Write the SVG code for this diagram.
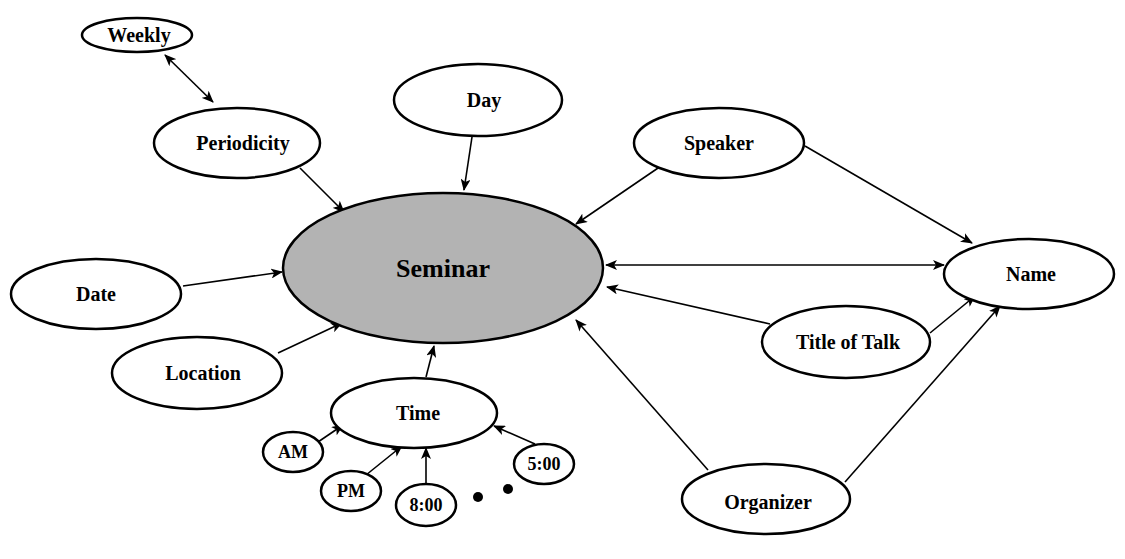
<svg xmlns="http://www.w3.org/2000/svg" width="1125" height="559" viewBox="0 0 1125 559">
<style>
.n ellipse{fill:#fff;stroke:#000;stroke-width:2.5}
.n text{font-family:"Liberation Serif","Times New Roman",serif;font-weight:bold;font-size:20px;text-anchor:middle;dominant-baseline:central;fill:#000}
.c line{stroke:#000;stroke-width:1.6;marker-end:url(#ah)}
.c line.bi{marker-start:url(#ahs)}
</style>
<defs>
<marker id="ah" viewBox="0 0 12 10" refX="11" refY="5" markerWidth="12" markerHeight="10" markerUnits="userSpaceOnUse" orient="auto"><path d="M0,0 L12,5 L0,10 L3,5 z" fill="#000"/></marker>
<marker id="ahs" viewBox="0 0 12 10" refX="11" refY="5" markerWidth="12" markerHeight="10" markerUnits="userSpaceOnUse" orient="auto-start-reverse"><path d="M0,0 L12,5 L0,10 L3,5 z" fill="#000"/></marker>
</defs>
<rect width="1125" height="559" fill="#fff"/>
<g class="c" id="connectors">
<line class="bi" x1="165" y1="55" x2="213" y2="102"/>
<line x1="300" y1="168" x2="344" y2="212"/>
<line x1="472" y1="137" x2="464" y2="190"/>
<line x1="661" y1="166" x2="576" y2="224"/>
<line x1="805" y1="146" x2="972" y2="243"/>
<line class="bi" x1="606" y1="265" x2="944" y2="265"/>
<line x1="770" y1="324" x2="607" y2="287"/>
<line x1="930" y1="333" x2="975" y2="296"/>
<line x1="708" y1="470" x2="576" y2="320"/>
<line x1="845" y1="482" x2="1000" y2="306"/>
<line x1="183" y1="286" x2="282" y2="272"/>
<line x1="278" y1="353" x2="342" y2="323"/>
<line x1="426" y1="377" x2="434" y2="346"/>
<line x1="318" y1="442" x2="343" y2="425"/>
<line x1="366" y1="475" x2="402" y2="446"/>
<line x1="426" y1="484" x2="426" y2="448"/>
<line x1="535" y1="444" x2="494" y2="426"/>
</g>
<g class="n" id="seminar"><ellipse cx="443" cy="268" rx="160" ry="75" style="fill:#b3b3b3"/><text x="443" y="268" style="font-size:26px">Seminar</text></g>
<g class="n" id="weekly"><ellipse cx="137" cy="35" rx="55" ry="17"/><text x="139" y="35">Weekly</text></g>
<g class="n" id="periodicity"><ellipse cx="237" cy="143" rx="83" ry="35"/><text x="243" y="143">Periodicity</text></g>
<g class="n" id="day"><ellipse cx="478" cy="100" rx="84" ry="36"/><text x="484" y="100">Day</text></g>
<g class="n" id="speaker"><ellipse cx="719" cy="143" rx="85" ry="35"/><text x="719" y="143">Speaker</text></g>
<g class="n" id="date"><ellipse cx="96" cy="294" rx="85" ry="35"/><text x="96" y="294">Date</text></g>
<g class="n" id="location"><ellipse cx="197" cy="373" rx="85" ry="36"/><text x="203" y="373">Location</text></g>
<g class="n" id="time"><ellipse cx="414" cy="413" rx="83" ry="35"/><text x="418" y="413">Time</text></g>
<g class="n" id="name"><ellipse cx="1029" cy="274" rx="85" ry="35"/><text x="1031" y="274">Name</text></g>
<g class="n" id="title"><ellipse cx="846" cy="342" rx="84" ry="36"/><text x="848" y="342">Title of Talk</text></g>
<g class="n" id="organizer"><ellipse cx="766" cy="499" rx="84" ry="35"/><text x="768" y="502">Organizer</text></g>
<g class="n" id="am"><ellipse cx="293" cy="452" rx="30" ry="20"/><text x="293" y="452" style="font-size:18px">AM</text></g>
<g class="n" id="pm"><ellipse cx="351" cy="491" rx="30" ry="20"/><text x="351" y="491" style="font-size:18px">PM</text></g>
<g class="n" id="t800"><ellipse cx="426" cy="505" rx="30" ry="21"/><text x="426" y="505" style="font-size:18px">8:00</text></g>
<g class="n" id="t500"><ellipse cx="544" cy="464" rx="30" ry="20"/><text x="544" y="464" style="font-size:18px">5:00</text></g>
<g id="dots"><circle cx="478" cy="497" r="5" fill="#000"/><circle cx="508" cy="489" r="5" fill="#000"/></g>
</svg>
